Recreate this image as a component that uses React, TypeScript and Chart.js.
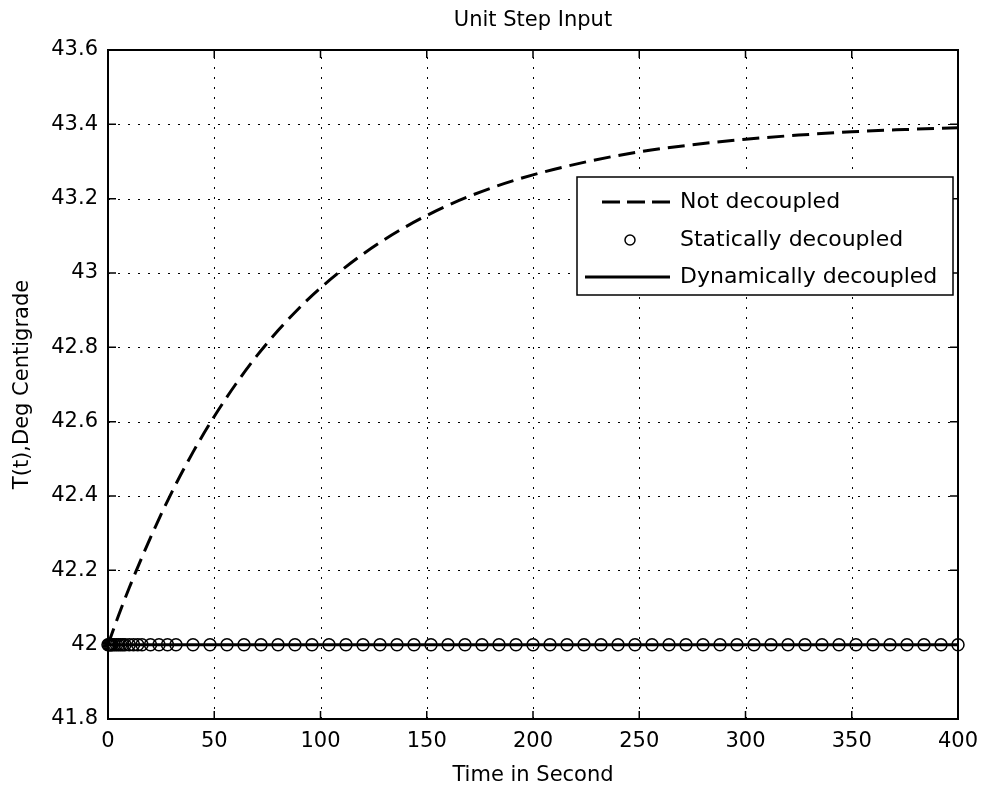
import React, { useEffect, useRef } from 'react';
import { Chart, registerables } from 'chart.js';

Chart.register(...registerables);

const titleText = 'Unit Step Input';
const xAxisTitle = 'Time in Second';
const yAxisTitle = 'T(t),Deg Centigrade';

const xTicks = [0, 50, 100, 150, 200, 250, 300, 350, 400];
const yTicks = [41.8, 42, 42.2, 42.4, 42.6, 42.8, 43, 43.2, 43.4, 43.6];
const yTickLabels = ['41.8', '42', '42.2', '42.4', '42.6', '42.8', '43', '43.2', '43.4', '43.6'];

const legendLabels = ['Not decoupled', 'Statically decoupled', 'Dynamically decoupled'];

// Not decoupled response (dashed)
const notDecTime = [0, 5, 10, 20, 30, 40, 50, 60, 70, 80, 90, 100, 120, 140, 160, 180, 200, 225, 250, 275, 300, 325, 350, 375, 400];
const notDecTemp = [42, 42.079, 42.153, 42.288, 42.41, 42.518, 42.614, 42.7, 42.777, 42.845, 42.906, 42.96, 43.051, 43.124, 43.182, 43.228, 43.264, 43.299, 43.326, 43.345, 43.36, 43.371, 43.38, 43.386, 43.391];

// Statically decoupled response (circles)
const staticTime = [0, 0.5, 1, 1.5, 2, 3, 4, 5, 6, 7, 8, 10, 12, 14, 16, 20, 24, 28, 32, 40, 48, 56, 64, 72, 80, 88, 96, 104, 112, 120, 128, 136, 144, 152, 160, 168, 176, 184, 192, 200, 208, 216, 224, 232, 240, 248, 256, 264, 272, 280, 288, 296, 304, 312, 320, 328, 336, 344, 352, 360, 368, 376, 384, 392, 400];
const staticTemp = [42, 42, 42, 42, 42, 42, 42, 42, 42, 42, 42, 42, 42, 42, 42, 42, 42, 42, 42, 42, 42, 42, 42, 42, 42, 42, 42, 42, 42, 42, 42, 42, 42, 42, 42, 42, 42, 42, 42, 42, 42, 42, 42, 42, 42, 42, 42, 42, 42, 42, 42, 42, 42, 42, 42, 42, 42, 42, 42, 42, 42, 42, 42, 42, 42];

// Dynamically decoupled response (solid)
const dynTime = [0, 400];
const dynTemp = [42, 42];

const FONT = '"DejaVu Sans", Verdana, sans-serif';
const FONT_SIZE = 21;
const LEGEND_FONT_SIZE = 22;

export default function App() {
  const ref = useRef<HTMLCanvasElement | null>(null);

  useEffect(() => {
    document.body.style.margin = '0';
    const canvas = ref.current;
    if (!canvas) return;

    const gridPlugin = {
      id: 'matlabGrid',
      beforeDatasetsDraw(chart: any) {
        const { ctx, chartArea } = chart;
        const xs = chart.scales.x;
        const ys = chart.scales.y;
        ctx.save();
        ctx.strokeStyle = '#000';
        ctx.lineWidth = 1;
        ctx.setLineDash([2, 8]);
        xTicks.forEach((v) => {
          const px = Math.round(xs.getPixelForValue(v)) + 0.5;
          ctx.beginPath();
          ctx.moveTo(px, chartArea.bottom);
          ctx.lineTo(px, chartArea.top);
          ctx.stroke();
        });
        yTicks.forEach((v) => {
          const py = Math.round(ys.getPixelForValue(v)) + 0.5;
          ctx.beginPath();
          ctx.moveTo(chartArea.left, py);
          ctx.lineTo(chartArea.right, py);
          ctx.stroke();
        });
        ctx.restore();
      },
      afterDatasetsDraw(chart: any) {
        const { ctx, chartArea } = chart;
        const xs = chart.scales.x;
        const ys = chart.scales.y;
        const { left, right, top, bottom } = chartArea;
        ctx.save();
        ctx.setLineDash([]);
        ctx.strokeStyle = '#000';
        ctx.lineWidth = 2;
        ctx.strokeRect(left, top, right - left, bottom - top);
        ctx.lineWidth = 1.5;
        const tl = 8;
        xTicks.forEach((v) => {
          const px = xs.getPixelForValue(v);
          ctx.beginPath();
          ctx.moveTo(px, bottom);
          ctx.lineTo(px, bottom - tl);
          ctx.moveTo(px, top);
          ctx.lineTo(px, top + tl);
          ctx.stroke();
        });
        yTicks.forEach((v) => {
          const py = ys.getPixelForValue(v);
          ctx.beginPath();
          ctx.moveTo(left, py);
          ctx.lineTo(left + tl, py);
          ctx.moveTo(right, py);
          ctx.lineTo(right - tl, py);
          ctx.stroke();
        });
        ctx.restore();
      },
      afterDraw(chart: any) {
        const { ctx, chartArea } = chart;
        ctx.save();
        // title
        ctx.fillStyle = '#000';
        ctx.font = `${FONT_SIZE}px ${FONT}`;
        ctx.textAlign = 'center';
        ctx.textBaseline = 'middle';
        ctx.fillText(titleText, (chartArea.left + chartArea.right) / 2, 21);

        // legend
        const bx = chartArea.right - 381;
        const by = chartArea.top + 127;
        const bw = 376;
        const bh = 118;
        ctx.fillStyle = '#fff';
        ctx.fillRect(bx, by, bw, bh);
        ctx.strokeStyle = '#000';
        ctx.lineWidth = 1.5;
        ctx.setLineDash([]);
        ctx.strokeRect(bx, by, bw, bh);
        const rows = [by + 25, by + 63, by + 100];
        ctx.lineWidth = 3;
        ctx.setLineDash([18, 7]);
        ctx.beginPath();
        ctx.moveTo(bx + 25, rows[0]);
        ctx.lineTo(bx + 93, rows[0]);
        ctx.stroke();
        ctx.setLineDash([]);
        ctx.lineWidth = 1.5;
        ctx.beginPath();
        ctx.arc(bx + 53, rows[1], 5, 0, Math.PI * 2);
        ctx.stroke();
        ctx.lineWidth = 3;
        ctx.beginPath();
        ctx.moveTo(bx + 8, rows[2]);
        ctx.lineTo(bx + 93, rows[2]);
        ctx.stroke();
        ctx.fillStyle = '#000';
        ctx.font = `${LEGEND_FONT_SIZE}px ${FONT}`;
        ctx.textAlign = 'left';
        legendLabels.forEach((t, i) => ctx.fillText(t, bx + 103, rows[i]));
        ctx.restore();
      },
    };

    const chart = new Chart(canvas, {
      type: 'line',
      data: {
        datasets: [
          {
            label: legendLabels[0],
            data: notDecTime.map((t, i) => ({ x: t, y: notDecTemp[i] })),
            borderColor: '#000',
            borderWidth: 3,
            borderDash: [17, 8],
            pointRadius: 0,
            fill: false,
            cubicInterpolationMode: 'monotone',
          },
          {
            label: legendLabels[1],
            data: staticTime.map((t, i) => ({ x: t, y: staticTemp[i] })),
            borderColor: '#000',
            backgroundColor: 'rgba(0,0,0,0)',
            showLine: false,
            pointStyle: 'circle',
            pointRadius: 6,
            pointBorderWidth: 1.5,
            pointBorderColor: '#000',
            pointBackgroundColor: 'rgba(0,0,0,0)',
            clip: 10,
          },
          {
            label: legendLabels[2],
            data: dynTime.map((t, i) => ({ x: t, y: dynTemp[i] })),
            borderColor: '#000',
            borderWidth: 3,
            pointRadius: 0,
            fill: false,
          },
        ],
      },
      options: {
        responsive: true,
        maintainAspectRatio: false,
        animation: false,
        layout: { padding: { left: 0, right: 26, top: 50, bottom: 0 } },
        plugins: {
          legend: { display: false },
          tooltip: { enabled: false },
          title: { display: false },
        },
        scales: {
          x: {
            type: 'linear',
            min: 0,
            max: 400,
            afterBuildTicks: (scale: any) => {
              scale.ticks = xTicks.map((v) => ({ value: v }));
            },
            afterFit: (scale: any) => {
              scale.height = 69;
              scale.paddingLeft = 0;
              scale.paddingRight = 0;
            },
            grid: { display: false, drawTicks: false },
            border: { display: false },
            ticks: {
              color: '#000',
              font: { family: FONT, size: FONT_SIZE },
              padding: 10,
              maxRotation: 0,
              autoSkip: false,
              callback: (v: any) => String(v),
            },
            title: {
              display: true,
              text: xAxisTitle,
              color: '#000',
              font: { family: FONT, size: FONT_SIZE },
              padding: { top: 0, bottom: 0 },
            },
          },
          y: {
            type: 'linear',
            min: 41.8,
            max: 43.6,
            afterBuildTicks: (scale: any) => {
              scale.ticks = yTicks.map((v) => ({ value: v }));
            },
            afterFit: (scale: any) => {
              scale.width = 108;
              scale.paddingTop = 0;
              scale.paddingBottom = 0;
            },
            grid: { display: false, drawTicks: false },
            border: { display: false },
            ticks: {
              color: '#000',
              font: { family: FONT, size: FONT_SIZE },
              padding: 10,
              autoSkip: false,
              callback: (v: any) => {
                const idx = yTicks.findIndex((t) => Math.abs(t - Number(v)) < 1e-6);
                return idx >= 0 ? yTickLabels[idx] : '';
              },
            },
            title: {
              display: true,
              text: yAxisTitle,
              color: '#000',
              font: { family: FONT, size: FONT_SIZE },
              padding: { top: 10, bottom: 0 },
            },
          },
        },
      },
      plugins: [gridPlugin],
    });

    return () => chart.destroy();
  }, []);

  return (
    <div style={{ position: 'fixed', left: 0, top: 0, width: 984, height: 788, background: '#fff' }}>
      <canvas ref={ref} />
    </div>
  );
}
